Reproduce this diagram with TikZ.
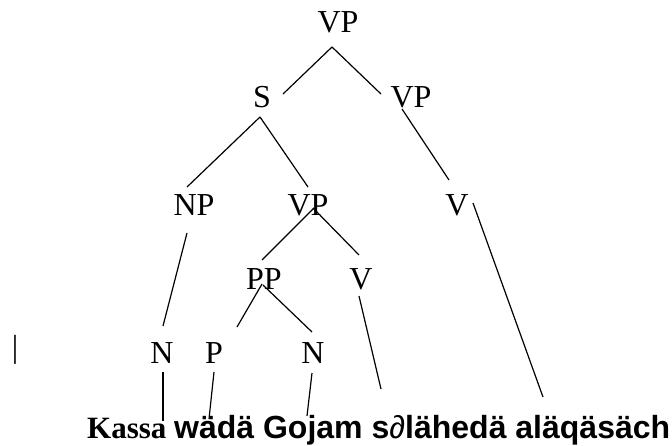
\documentclass[tikz,border=0pt]{standalone}
\usepackage{fontspec}
\setmainfont{Liberation Serif}
\newfontfamily\arial{Liberation Sans}
\usetikzlibrary{calc}
\tikzset{
    CAT/.style ={font=\fontsize{32}{32}\selectfont, inner sep=0pt},
    SEN/.style ={font=\fontsize{31}{31}\selectfont\bfseries, inner sep=0pt, anchor=base west},
    BR/.style ={line width=1.2pt}}

\begin{document}
\begin{tikzpicture}[x=1pt,y=-1pt]
        \useasboundingbox (0,0) rectangle (672,446);
        \node[CAT] (1) at(338,22){VP};
        \node[CAT] (2) at(262,97){S};
        \node[CAT] (3) at(411,97){VP};
        \node[CAT] (4) at(194,205){NP};
        \node[CAT] (5) at(308,205){VP};
        \node[CAT] (6) at(457,205){V};
        \node[CAT] (7) at(264,279){PP};
        \node[CAT] (8) at(361,279){V};
        \node[CAT] (9) at(162,353){N};
        \node[CAT] (10) at(214,353){P};
        \node[CAT] (11) at(313,353){N};
        \node[CAT] (0) at(15,350){|};
        \node[SEN] (s) at(87,438){Kassa {\arial\fontsize{32}{32}\selectfont wädä Gojam s{\mdseries ∂}lähedä aläqäsäch}};
        % where the lowest branches meet the words
        \coordinate (12) at(163,421);
        \coordinate (13) at(209,419);
        \coordinate (14) at(307,416);
        \coordinate (15) at(381,389);
        \coordinate (16) at(543,397);
        \draw[BR] ($(1)+(-6,25)$) --($(2)+(21,-3)$);
        \draw[BR] ($(1)+(-6,25)$) --($(3)+(-30,-3)$);
        \draw[BR] ($(2)+(-2,20)$) --($(4)+(-7,-18)$);
        \draw[BR] ($(2)+(-2,20)$) --($(5)+(0,-18)$);
        \draw[BR] ($(3)+(-9,12)$) --($(6)+(-8,-25)$);
        \draw[BR] ($(5)+(6,3)$) --($(7)+(-2,-19)$);
        \draw[BR] ($(5)+(5,3)$) --($(8)+(-2,-24)$);
        \draw[BR] ($(4)+(-7,28)$) --($(9)+(1,-27)$);
        \draw[BR] ($(7)+(-2,5)$) --($(10)+(23,-26)$);
        \draw[BR] ($(7)+(-1,6)$) --($(11)+(-1,-21)$);
        \draw[BR] ($(9)+(1,19)$) --(12);
        \draw[BR] ($(10)+(0,19)$) --(13);
        \draw[BR] ($(11)+(-1,20)$) --(14);
        \draw[BR] ($(8)+(-2,17)$) --(15);
        \draw[BR] ($(6)+(16,-2)$) --(16);
\end{tikzpicture}
\end{document}
